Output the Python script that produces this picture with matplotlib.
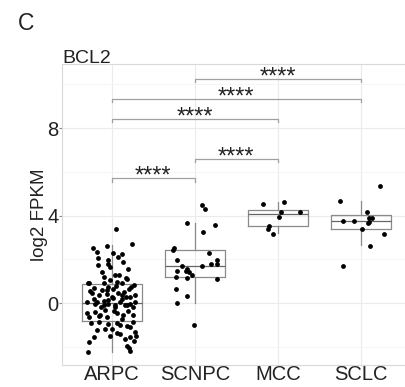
import matplotlib
matplotlib.use("Agg")
import matplotlib.pyplot as plt
import numpy as np

plt.rcParams['font.family'] = ['Liberation Sans', 'DejaVu Sans']

categories = ["ARPC", "SCNPC", "MCC", "SCLC"]

# box statistics
q1 = [-0.82, 1.19, 3.52, 3.38]
med = [0.0, 1.69, 4.06, 3.74]
q3 = [0.87, 2.42, 4.25, 4.02]
whislo = [-2.24, 0.0, 3.2, 2.65]
whishi = [2.65, 3.65, 4.6, 4.66]

# points: (jitter offset, value)
arpc_pts = [
    (0.05, 3.37), (-0.23, 2.50), (-0.18, 2.34), (-0.06, 2.60), (0.02, 2.30), (0.12, 2.24),
    (0.24, 2.69), (0.14, 1.89), (-0.17, 1.74), (-0.04, 1.77), (-0.02, 1.63), (-0.12, 1.43),
    (0.04, 1.28), (0.17, 1.17), (0.18, 1.10), (-0.29, 0.94), (-0.10, 0.93), (0.06, 0.97),
    (0.12, 0.90), (0.27, 0.85), (-0.21, 0.67), (-0.04, 0.74), (0.02, 0.64), (0.21, 0.63),
    (-0.24, 0.44), (-0.16, 0.37), (-0.06, 0.40), (0.00, 0.29), (0.12, 0.21), (0.17, 0.29),
    (0.22, 0.29), (0.28, 0.37), (-0.30, 0.06), (-0.18, 0.03), (-0.10, -0.09), (-0.04, -0.02),
    (0.04, -0.17), (0.16, -0.09), (0.22, -0.05), (-0.30, -0.47), (-0.20, -0.40), (-0.14, -0.55),
    (-0.06, -0.62), (0.06, -0.47), (0.26, -0.55), (-0.16, -0.85), (-0.04, -0.96), (0.06, -0.90),
    (0.10, -1.00), (0.18, -1.03), (0.22, -1.08), (-0.08, -1.20), (0.28, -1.31), (0.06, -1.36),
    (0.10, -1.42), (-0.02, -1.51), (0.22, -1.54), (-0.22, -1.54), (0.29, -1.51), (-0.27, -1.78),
    (0.18, -1.95), (0.21, -2.07), (-0.29, -2.22), (0.22, -2.18),
    (-0.26, 0.55), (-0.12, 0.62), (0.08, 0.48), (0.15, 0.52), (-0.05, 0.15), (0.10, 0.05),
    (-0.20, -0.05), (0.25, -0.20), (-0.08, -0.30), (0.03, -0.35), (0.20, -0.38), (-0.28, -0.65),
    (0.12, -0.72), (-0.15, -0.60), (0.05, 0.80), (-0.02, 1.05), (0.09, 1.30), (-0.10, 1.20),
    (0.23, 0.72), (-0.22, 0.20), (0.18, -0.10), (-0.13, -0.20), (0.02, 0.25), (0.28, 0.05),
    (-0.06, 0.58), (0.14, -0.55), (-0.25, -0.90), (0.00, -1.20), (0.16, -1.65), (-0.18, -1.25),
    (0.27, -1.75), (-0.04, 1.95), (0.07, 2.10), (-0.17, 2.05), (0.20, 1.55), (0.04, -0.10),
    (-0.09, 0.10), (0.12, 0.35), (-0.27, 0.90), (0.26, -0.85),
]
scnpc_pts = [
    (0.09, 4.50), (0.12, 4.28), (-0.09, 3.68), (0.24, 3.56), (0.10, 3.27), (-0.25, 2.53),
    (-0.26, 2.45), (0.17, 2.31), (-0.21, 1.96), (0.27, 1.96), (0.20, 1.81), (0.27, 1.81),
    (-0.15, 1.69), (0.09, 1.69), (-0.21, 1.46), (-0.11, 1.46), (-0.09, 1.54), (-0.07, 1.43),
    (-0.03, 1.28), (-0.23, 1.20), (-0.10, 1.13), (0.27, 1.10), (-0.23, 0.64), (-0.10, 0.33),
    (-0.21, 0.01), (-0.01, -1.00),
]
mcc_pts = [
    (-0.18, 4.55), (0.08, 4.61), (0.04, 4.17), (0.27, 4.17), (0.02, 3.94), (-0.11, 3.53),
    (-0.12, 3.41), (-0.06, 3.18),
]
sclc_pts = [
    (0.23, 5.34), (-0.25, 4.67), (0.07, 4.17), (0.13, 3.91), (0.10, 3.91), (-0.21, 3.76),
    (-0.08, 3.76), (0.10, 3.71), (0.09, 3.67), (0.01, 3.41), (0.28, 3.15), (0.11, 2.63),
    (-0.22, 1.70),
]
points = [arpc_pts, scnpc_pts, mcc_pts, sclc_pts]

# comparisons: (group a, group b, bracket height)
comparisons = [(1, 2, 5.7), (2, 3, 6.6), (1, 3, 8.43), (1, 4, 9.35), (2, 4, 10.25)]
sig_label = "****"

W, H = 406, 387
fig = plt.figure(figsize=(W / 100, H / 100), dpi=100)
ax = fig.add_axes([62 / W, 22 / H, 348.6 / W, 301 / H])

ax.set_xlim(0.4, 4.6)
ax.set_ylim(-2.83, 10.93)

ax.set_yticks([0, 4, 8])
ax.set_yticks([-2, 2, 6, 10], minor=True)
ax.set_xticks(range(1, 5))
ax.set_xticklabels(categories)
ax.grid(True, which='major', color='#ebebeb', linewidth=0.8)
ax.grid(True, which='minor', axis='y', color='#f4f4f4', linewidth=0.6)
ax.set_axisbelow(True)
ax.tick_params(which='minor', length=0)
ax.tick_params(axis='y', which='major', length=2, color='#888888', width=0.8,
               labelsize=14.5, pad=0.3, labelcolor='#222222')
ax.tick_params(axis='x', which='major', length=0, labelsize=14.5, pad=0.2,
               labelcolor='#222222')
for s in ax.spines.values():
    s.set_color('#d9d9d9')
    s.set_linewidth(0.8)

stats = []
for i in range(4):
    stats.append(dict(med=med[i], q1=q1[i], q3=q3[i], whislo=whislo[i],
                      whishi=whishi[i], fliers=[]))
box_color = '#8a8a8a'
ax.bxp(stats, positions=range(1, 5), widths=0.72, showfliers=False,
       boxprops=dict(color=box_color, linewidth=0.9),
       whiskerprops=dict(color=box_color, linewidth=0.9),
       capprops=dict(linewidth=0),
       medianprops=dict(color='#666666', linewidth=0.9),
       manage_ticks=False, zorder=2)

for i, pts in enumerate(points):
    xs = [i + 1 + p[0] for p in pts]
    ys = [p[1] for p in pts]
    ax.scatter(xs, ys, s=12, color='black', zorder=3, linewidths=0)

for a, b, h in comparisons:
    ax.plot([a, a, b, b], [h - 0.15, h, h, h - 0.15], color='#a0a0a0',
            linewidth=0.9, zorder=2, clip_on=False)
    ax.text((a + b) / 2, h - 0.21, sig_label, ha='center', va='baseline',
            fontsize=17, color='#222222')

ax.set_ylabel("log2 FPKM", fontsize=13.5, color='#222222')
ax.yaxis.label.set_va('center')
ax.yaxis.set_label_coords((39 - 62) / 348.6, 0.5)

fig.text(62 / W, 1 - 63 / H, "BCL2", fontsize=14, ha='left', va='baseline',
         color='#222222')
fig.text(18 / W, 1 - 30 / H, "C", fontsize=16.5, ha='left', va='baseline',
         color='#222222')

fig.savefig("out.png", dpi=100)
